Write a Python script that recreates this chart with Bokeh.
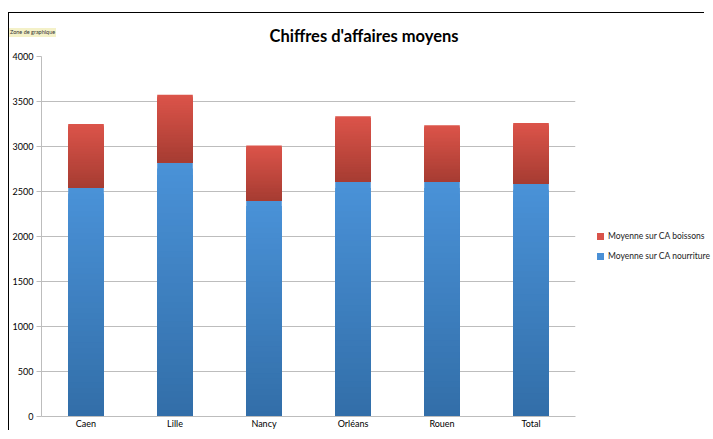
from bokeh.plotting import figure
from bokeh.models import ColumnDataSource, Range1d, FactorRange, SingleIntervalTicker, Div
from bokeh.layouts import column
from bokeh.embed import file_html
from bokeh.resources import INLINE

villes = ["Caen", "Lille", "Nancy", "Orléans", "Rouen", "Total"]
ca_nourriture = [2540, 2825, 2400, 2605, 2605, 2585]
ca_boissons = [710, 750, 610, 730, 630, 675]
series_names = ["Moyenne sur CA boissons", "Moyenne sur CA nourriture"]
series_colors = ["#d9534a", "#4a90d6"]
title_text = "Chiffres d'affaires moyens"
tag_text = "Zone de graphique"

FONT = "Lato"
N = 40

def lerp(c1, c2, t):
    return "#%02x%02x%02x" % tuple(int(round(a + (b - a) * t)) for a, b in zip(c1, c2))

blue_top, blue_bot = (74, 146, 216), (50, 110, 168)
red_top, red_bot = (220, 84, 74), (166, 60, 50)

p = figure(width=696, height=418, x_range=FactorRange(*villes, range_padding=0),
           y_range=Range1d(0, 4000), output_backend="svg", toolbar_location=None,
           min_border_left=32, min_border_top=42, min_border_bottom=12, min_border_right=130)
p.styles = {"border-top": "1px solid black", "border-left": "1px solid black",
            "margin-top": "12px", "margin-left": "8px"}
p.outline_line_color = None
p.background_fill_color = "white"
p.border_fill_color = "white"

def gradient_bars(bottoms, tops, ctop, cbot):
    # nested bars, from the tallest (lightest) to the shortest (darkest): a smooth vertical gradient
    xs, bs, ts, cs = [], [], [], []
    for i in range(N, 0, -1):
        f = i / N
        col = lerp(cbot, ctop, (i - 0.5) / N)
        for v, b0, t0 in zip(villes, bottoms, tops):
            xs.append(v)
            bs.append(b0)
            ts.append(b0 + (t0 - b0) * f)
            cs.append(col)
    src = ColumnDataSource(dict(x=xs, bottom=bs, top=ts, color=cs))
    return p.vbar(x="x", bottom="bottom", top="top", width=0.4, source=src,
                  fill_color="color", line_color=None)

zeros = [0] * len(villes)
gradient_bars(zeros, ca_nourriture, blue_top, blue_bot)
tops = [a + b for a, b in zip(ca_nourriture, ca_boissons)]
gradient_bars(ca_nourriture, tops, red_top, red_bot)

p.title.text = title_text
p.title.align = "left"
p.title.text_font = FONT
p.title.text_font_size = "16.5px"
p.title.text_font_style = "bold"
p.title.text_color = "black"
p.title.offset = 228
p.title.standoff = 21

p.yaxis.ticker = SingleIntervalTicker(interval=500)
p.ygrid.ticker = SingleIntervalTicker(interval=500)
p.ygrid.grid_line_color = "#bdbdbd"
p.xgrid.grid_line_color = None
for ax in (p.xaxis, p.yaxis):
    ax.axis_line_color = "#bdbdbd"
    ax.major_tick_line_color = "#bdbdbd"
    ax.minor_tick_line_color = None
    ax.major_label_text_font = FONT
    ax.major_label_text_font_size = "9px"
    ax.major_label_text_color = "black"
p.yaxis.major_tick_out = 5
p.yaxis.major_tick_in = 0
p.xaxis.major_tick_out = 0
p.xaxis.major_tick_in = 0
p.xaxis.major_label_standoff = 1
p.yaxis.major_label_standoff = 3

tag = Div(text=tag_text, styles={"position": "absolute", "top": "23px", "left": "4px", "z-index": "10",
                                 "font-family": "Lato", "font-size": "5.5px", "line-height": "9px",
                                 "background-color": "#f4f1c8", "color": "#333333", "padding": "0 1px"})

rows = "".join(
    '<div style="display:flex;align-items:center;height:20px;white-space:nowrap">'
    '<span style="display:inline-block;width:7px;height:7px;background:%s;margin-right:4px"></span>%s</div>'
    % (c, n) for n, c in zip(series_names, series_colors))
legend_div = Div(text=rows, styles={"position": "absolute", "top": "221px", "left": "592px", "z-index": "10",
                                    "font-family": "Lato", "font-size": "8.5px", "color": "#222222"})

layout = column(tag, legend_div, p)
open("out.html", "w").write(file_html(layout, INLINE))
